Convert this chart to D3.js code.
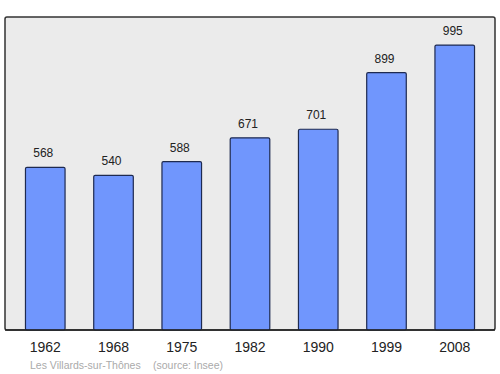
<!DOCTYPE html>
<html>
<head>
<meta charset="utf-8">
<script src="https://cdn.jsdelivr.net/npm/d3@7"></script>
<style>
  body { margin: 0; background: #fff; }
  text { font-family: "Liberation Sans", Arial, sans-serif; }
</style>
</head>
<body>
<script>
var years = ["1962", "1968", "1975", "1982", "1990", "1999", "2008"];
var population = [568, 540, 588, 671, 701, 899, 995];
var commune = "Les Villards-sur-Thônes";
var source = "(source: Insee)";

var w = 500, h = 374;
var frame = { left: 5, right: 495, top: 17, bottom: 330 };

var svg = d3.select("body")
  .append("svg")
  .attr("width", w)
  .attr("height", h);

var x = d3.scaleBand()
  .domain(years)
  .range([frame.left, frame.right])
  .paddingInner(0.42)
  .paddingOuter(0.3);

var y = d3.scaleLinear()
  .domain([0, 1093])
  .range([frame.bottom, frame.top]);

// plot background
svg.append("rect")
  .attr("x", frame.left)
  .attr("y", frame.top)
  .attr("width", frame.right - frame.left)
  .attr("height", frame.bottom - frame.top)
  .attr("rx", 2)
  .attr("fill", "#ebebeb")
  .attr("stroke", "#333")
  .attr("stroke-width", 1.5);

var data = years.map(function(d, i){ return { year: d, value: population[i] }; });

svg.selectAll("rect.bar")
  .data(data)
  .enter()
  .append("rect")
  .attr("class", "bar")
  .attr("x", function(d){ return x(d.year); })
  .attr("y", function(d){ return y(d.value); })
  .attr("width", x.bandwidth())
  .attr("height", function(d){ return frame.bottom - y(d.value); })
  .attr("rx", 1.5)
  .attr("fill", "#7096fd")
  .attr("stroke", "#1e2a50")
  .attr("stroke-width", 1.2);

svg.selectAll("text.val")
  .data(data)
  .enter()
  .append("text")
  .attr("class", "val")
  .attr("x", function(d){ return x(d.year) + x.bandwidth() / 2 - 2; })
  .attr("y", function(d){ return y(d.value) - 10; })
  .attr("text-anchor", "middle")
  .attr("font-size", 12)
  .attr("fill", "#222")
  .text(function(d){ return d.value; });

// redraw bottom frame line on top of bars
svg.append("line")
  .attr("x1", frame.left)
  .attr("x2", frame.right)
  .attr("y1", frame.bottom)
  .attr("y2", frame.bottom)
  .attr("stroke", "#222")
  .attr("stroke-width", 1.5);

var xAxis = svg.append("g")
  .attr("transform", "translate(0," + frame.bottom + ")")
  .call(d3.axisBottom(x).tickSize(0).tickPadding(12));
xAxis.select(".domain").remove();
xAxis.selectAll("text")
  .attr("font-size", 14)
  .attr("font-family", "Liberation Sans, Arial, sans-serif")
  .attr("fill", "#222");

svg.append("text")
  .attr("x", 30)
  .attr("y", 369)
  .attr("font-size", 10.5)
  .attr("fill", "#aaa")
  .text(commune);

svg.append("text")
  .attr("x", 153)
  .attr("y", 369)
  .attr("font-size", 10.5)
  .attr("fill", "#aaa")
  .text(source);
</script>
</body>
</html>
